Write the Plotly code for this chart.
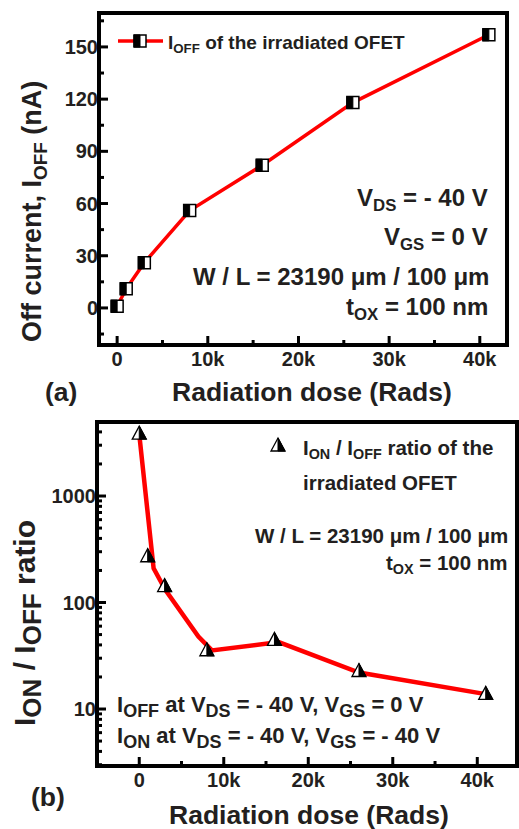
import plotly.graph_objects as go

# ---------------- data ----------------
dose_a = [0, 1000, 3000, 8000, 16000, 26000, 41000]
ioff_na = [1, 11, 26, 56, 82, 118, 157]

dose_b = [0, 1000, 3000, 8000, 16000, 26000, 41000]
on_off_ratio = [3900, 275, 144, 36, 45, 23, 14]

fit_dose_b = [0, 1700, 3100, 7000, 8600, 16500, 26000, 41000]
fit_ratio_b = [3800, 209, 131, 48, 35.5, 42.5, 22, 13.8]

x_tickvals = [0, 10000, 20000, 30000, 40000]
x_ticktext = ["0", "10k", "20k", "30k", "40k"]
x_minor = [5000, 15000, 25000, 35000]
ya_tickvals = [0, 30, 60, 90, 120, 150]
ya_minor = [-15, 15, 45, 75, 105, 135, 165]
yb_tickvals = [10, 100, 1000]
yb_ticktext = ["10", "100", "1000"]
yb_minor = [3, 4, 5, 6, 7, 8, 9, 20, 30, 40, 50, 60, 70, 80, 90,
            200, 300, 400, 500, 600, 700, 800, 900, 2000, 3000, 4000]

W, H = 519, 829
RED = "#ff0000"
TXT = "#231f20"
FONT = "Liberation Sans, Arial, sans-serif"
MAJ, MIN, TW = 9, 5, 3

# plot-area boxes in pixels: left, right, top, bottom
BOX_A = (99, 507, 13, 345)
BOX_B = (97, 517, 422, 766)


def px(x):
    return x / W


def py(y):
    return 1 - y / H


fig = go.Figure()

fig.add_trace(go.Scatter(x=dose_a, y=ioff_na, mode="lines",
                         line=dict(color=RED, width=3.5), xaxis="x", yaxis="y",
                         showlegend=False, hoverinfo="skip"))
fig.add_trace(go.Scatter(x=fit_dose_b, y=fit_ratio_b, mode="lines",
                         line=dict(color=RED, width=4.5), xaxis="x2", yaxis="y2",
                         showlegend=False, hoverinfo="skip"))
fig.add_trace(go.Scatter(x=dose_b, y=on_off_ratio, mode="markers",
                         marker=dict(size=1, color="rgba(0,0,0,0)"),
                         xaxis="x2", yaxis="y2", showlegend=False))

shapes = []

# ---- tick marks (drawn as shapes on the axes' own scales) ----
for xa, ya, yminor, ymajor in (("x", "y", ya_minor, ya_tickvals),
                               ("x2", "y2", yb_minor, yb_tickvals)):
    for vals, ln in ((x_tickvals, MAJ), (x_minor, MIN)):
        for v in vals:
            shapes.append(dict(type="line", xref=xa, yref=f"{ya} domain",
                               x0=v, x1=v, ysizemode="pixel", yanchor=0, y0=0, y1=ln,
                               line=dict(color="black", width=TW), layer="above"))
    for vals, ln in ((ymajor, MAJ), (yminor, MIN)):
        for v in vals:
            shapes.append(dict(type="line", xref=f"{xa} domain", yref=ya,
                               y0=v, y1=v, xsizemode="pixel", xanchor=0, x0=0, x1=ln,
                               line=dict(color="black", width=TW), layer="above"))

# ---- frames ----
for l, r, t, b in (BOX_A, BOX_B):
    shapes.append(dict(type="rect", xref="paper", yref="paper",
                       x0=px(l), x1=px(r), y0=py(b), y1=py(t),
                       line=dict(color="black", width=4),
                       fillcolor="rgba(0,0,0,0)", layer="above"))

# ---- half-filled square markers (panel a) ----
for xv, yv in zip(dose_a, ioff_na):
    common = dict(xref="x", yref="y", xsizemode="pixel", ysizemode="pixel",
                  xanchor=xv, yanchor=yv, layer="above")
    shapes.append(dict(type="rect", x0=-6, x1=6, y0=-6, y1=6,
                       fillcolor="white", line=dict(color="black", width=1.5), **common))
    shapes.append(dict(type="rect", x0=-6, x1=0, y0=-6, y1=6,
                       fillcolor="black", line=dict(color="black", width=1), **common))

# ---- half-filled triangle markers (panel b) ----
tri_full = "M-7,-6 L7,-6 L0,7 Z"
tri_half = "M0,-6 L7,-6 L0,7 Z"
for xv, yv in zip(dose_b, on_off_ratio):
    common = dict(xref="x2", yref="y2", xsizemode="pixel", ysizemode="pixel",
                  xanchor=xv, yanchor=yv, layer="above")
    shapes.append(dict(type="path", path=tri_full, fillcolor="white",
                       line=dict(color="black", width=1.3), **common))
    shapes.append(dict(type="path", path=tri_half, fillcolor="black",
                       line=dict(color="black", width=1), **common))

# ---- legend symbols ----
shapes.append(dict(type="line", xref="paper", yref="paper",
                   x0=px(118), x1=px(163), y0=py(41), y1=py(41),
                   line=dict(color=RED, width=3.5)))
shapes.append(dict(type="rect", xref="paper", yref="paper",
                   x0=px(134), x1=px(146), y0=py(47), y1=py(35),
                   fillcolor="white", line=dict(color="black", width=1.5)))
shapes.append(dict(type="rect", xref="paper", yref="paper",
                   x0=px(134), x1=px(140), y0=py(47), y1=py(35),
                   fillcolor="black", line=dict(color="black", width=1)))
lx, ly = 278, 445
shapes.append(dict(type="path", xref="paper", yref="paper",
                   path=f"M{px(lx-7)},{py(ly+6)} L{px(lx+7)},{py(ly+6)} L{px(lx)},{py(ly-7)} Z",
                   fillcolor="white", line=dict(color="black", width=1.3)))
shapes.append(dict(type="path", xref="paper", yref="paper",
                   path=f"M{px(lx)},{py(ly+6)} L{px(lx+7)},{py(ly+6)} L{px(lx)},{py(ly-7)} Z",
                   fillcolor="black", line=dict(color="black", width=1)))

annotations = []


def ann(text, x, y, size, xanchor="center", yanchor="middle", angle=0):
    annotations.append(dict(text=text, x=px(x), y=py(y), xref="paper", yref="paper",
                            xanchor=xanchor, yanchor=yanchor, showarrow=False,
                            textangle=angle,
                            font=dict(family=FONT, size=size, color=TXT, weight="bold")))


def bigsub(s, size):
    return f'<sub><span style="font-size:{size}px">{s}</span></sub>'


ann("I<sub>OFF</sub> of the irradiated OFET", 166, 44, 19, xanchor="left")
ann("V<sub>DS</sub> = - 40 V", 490, 199, 24, xanchor="right")
ann("V<sub>GS</sub> = 0 V", 490, 238, 24, xanchor="right")
ann("W / L = 23190 μm / 100 μm", 491, 276, 24, xanchor="right")
ann("t<sub>OX</sub> = 100 nm", 490, 309, 24, xanchor="right")
ann("Off current, I<sub>OFF</sub> (nA)", 34, 212, 27, angle=-90)
ann("Radiation dose (Rads)", 312, 392, 26.5)
ann("(a)", 61, 392, 26.5)

ann("I<sub>ON</sub> / I<sub>OFF</sub> ratio of the", 301, 449, 20.5, xanchor="left")
ann("irradiated OFET", 301, 482, 20.5, xanchor="left")
ann("W / L = 23190 μm / 100 μm", 510, 535, 20.5, xanchor="right")
ann("t<sub>OX</sub> = 100 nm", 510, 564, 20.5, xanchor="right")
ann("I" + bigsub("OFF", 18) + " at V" + bigsub("DS", 18) + " = - 40 V, V" + bigsub("GS", 18) + " = 0 V",
    115, 706, 22, xanchor="left")
ann("I" + bigsub("ON", 18) + " at V" + bigsub("DS", 18) + " = - 40 V, V" + bigsub("GS", 18) + " = - 40 V",
    115, 737, 22, xanchor="left")
ann("I" + bigsub("ON", 26) + " / I" + bigsub("OFF", 26) + " ratio", 27, 623, 30, angle=-90)
ann("Radiation dose (Rads)", 309, 815, 26.5)
ann("(b)", 48, 797, 26.5)

tickfont = dict(family=FONT, size=20, color=TXT)

ax_style = dict(showline=False, mirror=False,
                ticks="inside", ticklen=7, tickwidth=1, tickcolor="rgba(0,0,0,0)",
                showgrid=False, zeroline=False, tickfont=tickfont)

fig.update_layout(
    template="none",
    width=W, height=H, margin=dict(l=0, r=0, t=0, b=0),
    paper_bgcolor="white", plot_bgcolor="white",
    showlegend=False,
    xaxis=dict(domain=[px(BOX_A[0]), px(BOX_A[1])], anchor="y", range=[-2000, 43000],
               tickmode="array", tickvals=x_tickvals,
               ticktext=[f"<b>{t}</b>" for t in x_ticktext], **ax_style),
    yaxis=dict(domain=[py(BOX_A[3]), py(BOX_A[2])], anchor="x", range=[-21.3, 169.5],
               tickmode="array", tickvals=ya_tickvals,
               ticktext=[f"<b>{t}</b>" for t in ya_tickvals], **ax_style),
    xaxis2=dict(domain=[px(BOX_B[0]), px(BOX_B[1])], anchor="y2", range=[-5000, 44700],
                tickmode="array", tickvals=x_tickvals,
                ticktext=[f"<b>{t}</b>" for t in x_ticktext], **ax_style),
    yaxis2=dict(domain=[py(BOX_B[3]), py(BOX_B[2])], anchor="x2", type="log", range=[0.465, 3.695],
                tickmode="array", tickvals=yb_tickvals,
                ticktext=[f"<b>{t}</b>" for t in yb_ticktext], **ax_style),
    shapes=shapes, annotations=annotations,
)

fig.write_html("out.html")
